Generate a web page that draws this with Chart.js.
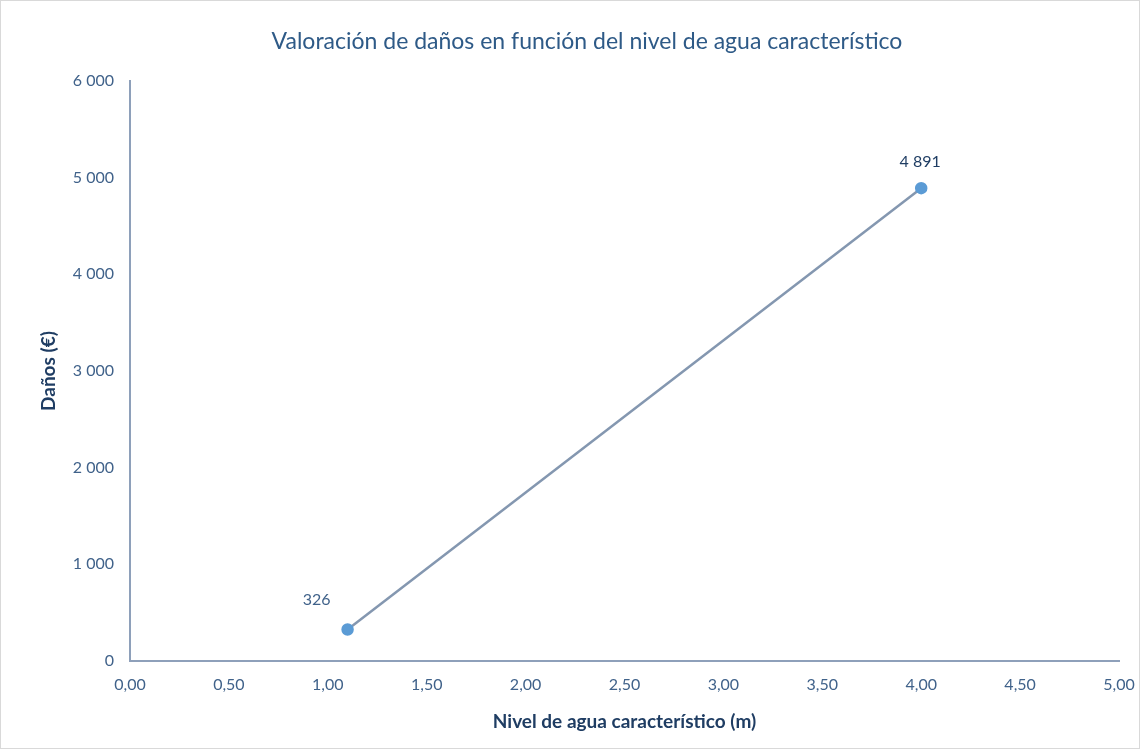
<!DOCTYPE html>
<html>
<head>
<meta charset="utf-8">
<script src="https://cdn.jsdelivr.net/npm/chart.js@4.4.1/dist/chart.umd.min.js"></script>
<style>
  html, body { margin: 0; padding: 0; background: #ffffff; }
  #wrap { width: 1138px; height: 747px; border: 1px solid #d9d9d9; position: relative; }
</style>
</head>
<body>
<div id="wrap"><canvas id="c" width="1138" height="747"></canvas></div>
<script>
// Nivel de agua característico (m) y daños asociados (€)
const nivelAgua = [1.10, 4.00];
const danos = [326, 4891];
const etiquetasDanos = ['326', '4 891'];

const titulo = 'Valoración de daños en función del nivel de agua característico';
const tituloX = 'Nivel de agua característico (m)';
const tituloY = 'Daños (€)';

const FONT = 'Lato, "Open Sans", sans-serif';
const axisColor = '#8EA0BA';
const tickColor = '#40628A';
const axisTitleColor = '#1F3D63';

const puntos = nivelAgua.map((x, i) => ({ x: x, y: danos[i] }));

// Título del gráfico, algo desplazado a la izquierda del centro del área
const chartTitle = {
  id: 'chartTitle',
  afterDraw(chart) {
    const ctx = chart.ctx;
    ctx.save();
    ctx.font = '23px ' + FONT;
    ctx.fillStyle = '#2E5A87';
    ctx.textAlign = 'center';
    ctx.textBaseline = 'middle';
    ctx.fillText(titulo, 586, 41);
    ctx.restore();
  }
};

// Etiquetas de valor sobre cada punto
const valueLabels = {
  id: 'valueLabels',
  afterDatasetsDraw(chart) {
    const ctx = chart.ctx;
    const meta = chart.getDatasetMeta(0);
    const offsets = [{ dx: -31, dy: -30 }, { dx: -1, dy: -26 }];
    ctx.save();
    ctx.font = '16px ' + FONT;
    ctx.textAlign = 'center';
    ctx.textBaseline = 'middle';
    meta.data.forEach((el, i) => {
      ctx.fillStyle = i === 1 ? axisTitleColor : tickColor;
      ctx.fillText(etiquetasDanos[i], el.x + offsets[i].dx, el.y + offsets[i].dy);
    });
    ctx.restore();
  }
};

new Chart(document.getElementById('c'), {
  type: 'scatter',
  data: {
    datasets: [{
      data: puntos,
      showLine: true,
      borderColor: '#8497B0',
      borderWidth: 2.5,
      pointBackgroundColor: '#5B9BD5',
      pointBorderColor: '#5B9BD5',
      pointRadius: 5,
      pointHoverRadius: 5
    }]
  },
  options: {
    responsive: false,
    animation: false,
    layout: { padding: { left: 0, right: 20, top: 80, bottom: 0 } },
    plugins: {
      legend: { display: false },
      tooltip: { enabled: false },
      title: { display: false }
    },
    scales: {
      x: {
        type: 'linear',
        min: 0,
        max: 5,
        ticks: {
          stepSize: 0.5,
          color: tickColor,
          font: { family: FONT, size: 16 },
          padding: 14,
          maxRotation: 0,
          callback: v => v.toFixed(2).replace('.', ',')
        },
        grid: { drawOnChartArea: false, drawTicks: false },
        border: { display: true, color: axisColor, width: 2 },
        title: {
          display: true,
          text: tituloX,
          color: axisTitleColor,
          font: { family: FONT, size: 19, weight: 'bold' },
          padding: { top: 0, bottom: 15 }
        },
        afterFit: s => { s.height = 87; s.paddingLeft = 0; s.paddingRight = 0; }
      },
      y: {
        type: 'linear',
        min: 0,
        max: 6000,
        ticks: {
          stepSize: 1000,
          color: tickColor,
          font: { family: FONT, size: 16 },
          padding: 16,
          callback: v => v === 0 ? '0' : String(v).replace(/\B(?=(\d{3})+(?!\d))/g, ' ')
        },
        grid: { drawOnChartArea: false, drawTicks: false },
        border: { display: true, color: axisColor, width: 2 },
        title: {
          display: true,
          text: tituloY,
          color: axisTitleColor,
          font: { family: FONT, size: 19, weight: 'bold' },
          padding: { top: 36, bottom: 0 }
        },
        afterFit: s => { s.width = 129; s.paddingTop = 0; s.paddingBottom = 0; }
      }
    }
  },
  plugins: [valueLabels, chartTitle]
});
</script>
</body>
</html>
